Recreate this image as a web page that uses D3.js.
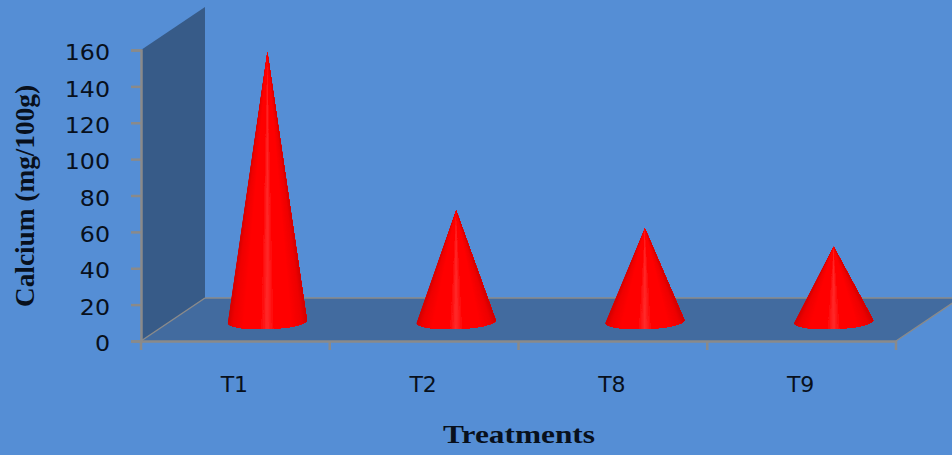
<!DOCTYPE html>
<html>
<head>
<meta charset="utf-8">
<script src="https://cdn.jsdelivr.net/npm/d3@7"></script>
<style>
  html, body { margin: 0; padding: 0; background: #558ed5; overflow: hidden; }
</style>
</head>
<body>
<div id="chart"></div>
<script>
const treatments = ["T1", "T2", "T8", "T9"];
const calcium = [147, 60, 50, 40];
const yTicks = [0, 20, 40, 60, 80, 100, 120, 140, 160];

const width = 952, height = 455;
// front plane of the fake 3D box
const margin = {top: 50, right: 56, bottom: 114, left: 141};
const plotWidth = width - margin.left - margin.right;
const plotHeight = height - margin.top - margin.bottom;
const depth = {x: 64, y: -43};

const svg = d3.select("#chart").append("svg")
    .attr("width", width)
    .attr("height", height)
    .style("display", "block");

// the reference is a slightly blurry screenshot
svg.append("defs").append("filter")
    .attr("id", "soft")
    .append("feGaussianBlur")
    .attr("stdDeviation", 0.45);

const g = svg.append("g")
    .attr("transform", `translate(${margin.left}, ${margin.top})`);

const x = d3.scaleBand().domain(treatments).range([0, plotWidth]);
const y = d3.scaleLinear().domain([0, 160]).range([plotHeight, 0]);

// depth 0 is the front plane, 1 the back wall
const px = (sx, d) => sx + d * depth.x;
const py = (sy, d) => sy + d * depth.y;
const pts = a => a.map(p => p.join(",")).join(" ");

// side wall
g.append("polygon")
    .attr("points", pts([[0, y(0)], [0, y(160)], [px(0, 1), py(y(160), 1)], [px(0, 1), py(y(0), 1)]]))
    .attr("fill", "#375b88");

// floor
g.append("polygon")
    .attr("points", pts([[0, y(0)], [plotWidth, y(0)], [px(plotWidth, 1), py(y(0), 1)], [px(0, 1), py(y(0), 1)]]))
    .attr("fill", "#426b9f");

const lineColor = "#8a8a8a";
const textColor = "#08101c";
const floorEdges = [
  [[0, y(0)], [px(0, 1), py(y(0), 1)]],
  [[px(0, 1), py(y(0), 1)], [px(plotWidth, 1), py(y(0), 1)]],
  [[plotWidth, y(0)], [px(plotWidth, 1), py(y(0), 1)]]
];
g.selectAll(".edge")
  .data(floorEdges)
  .join("line")
    .attr("class", "edge")
    .attr("x1", d => d[0][0]).attr("y1", d => d[0][1])
    .attr("x2", d => d[1][0]).attr("y2", d => d[1][1])
    .attr("stroke", lineColor)
    .attr("stroke-width", 1.5);

// axes
const yAxis = d3.axisLeft(y).tickValues(yTicks).tickSize(10);
const yG = g.append("g").call(yAxis);
const xAxis = d3.axisBottom(x).tickSize(0).tickPadding(35);
const xG = g.append("g").attr("transform", `translate(0, ${plotHeight})`).call(xAxis);

// category ticks sit on band edges, not on the centres
xG.selectAll(".edgeTick")
  .data(d3.range(treatments.length + 1))
  .join("line")
    .attr("class", "edgeTick")
    .attr("x1", i => i * x.step()).attr("x2", i => i * x.step())
    .attr("y1", 0).attr("y2", 9)
    .attr("stroke", lineColor)
    .attr("stroke-width", 2.5);

[yG, xG].forEach(a => {
  a.selectAll(".domain").attr("stroke", lineColor).attr("stroke-width", 2.5);
  a.selectAll(".tick line").attr("stroke", lineColor).attr("stroke-width", 2.5);
  a.selectAll("text")
    .attr("fill", textColor)
    .attr("font-family", "'DejaVu Sans', sans-serif");
});
// tick labels are a bit stretched sideways in the original
yG.selectAll(".tick text")
    .attr("x", 0)
    .attr("font-size", 21)
    .attr("text-anchor", "end")
    .attr("transform", "translate(-31,3) scale(1.13,1)");
xG.selectAll(".tick text")
    .attr("font-size", 22)
    .attr("transform", "translate(-1,0)");

// cones, painted left to right as overlapping wedges so the shading narrows to the tip
const baseDepth = 0.5, rx = 39.5, ry = 7.5, tilt = -2 * Math.PI / 180, baseDrop = 2;
const slices = d3.range(90);
const shade = d3.scaleLinear()
    .domain([0, 0.06, 0.2, 0.42, 0.5, 0.58, 0.8, 0.94, 1])
    .range(["#d40000", "#ee0000", "#ff0000", "#ff0505", "#ff2c2c", "#ff0505", "#ff0000", "#ee0000", "#d40000"]);

const basePoint = i => {
  const t = Math.PI - i / slices.length * Math.PI;
  const bx = rx * Math.cos(t), by = ry * Math.sin(t);
  return [bx * Math.cos(tilt) - by * Math.sin(tilt), baseDrop + bx * Math.sin(tilt) + by * Math.cos(tilt)];
};
const basePoints = d3.range(slices.length + 1).map(basePoint);

const cones = g.selectAll(".cone")
  .data(treatments.map((t, i) => ({t, v: calcium[i]})))
  .join("g")
    .attr("class", "cone")
    .attr("filter", "url(#soft)")
    .attr("transform", d => `translate(${px(x(d.t) + x.bandwidth() / 2, baseDepth)}, ${py(y(0), baseDepth)})`);

cones.selectAll("polygon")
  .data(d => slices.map(i => ({i, h: y(0) - y(d.v)})))
  .join("polygon")
    .attr("points", d => pts([[0, -d.h], ...basePoints.slice(d.i)]))
    .attr("fill", d => shade((basePoints[d.i][0] + basePoints[d.i + 1][0]) / 2 / (2 * rx) + 0.5));

// axis titles
g.append("text")
    .attr("x", 378)
    .attr("y", 393)
    .attr("text-anchor", "middle")
    .attr("font-family", "'Liberation Serif', serif")
    .attr("font-weight", "bold")
    .attr("font-size", 25)
    .attr("textLength", 152)
    .attr("lengthAdjust", "spacingAndGlyphs")
    .attr("fill", textColor)
    .text("Treatments");

g.append("text")
    .attr("transform", "translate(-107, 146) rotate(-90)")
    .attr("text-anchor", "middle")
    .attr("font-family", "'Liberation Serif', serif")
    .attr("font-weight", "bold")
    .attr("font-size", 27)
    .attr("textLength", 222)
    .attr("lengthAdjust", "spacingAndGlyphs")
    .attr("fill", textColor)
    .text("Calcium (mg/100g)");
</script>
</body>
</html>
